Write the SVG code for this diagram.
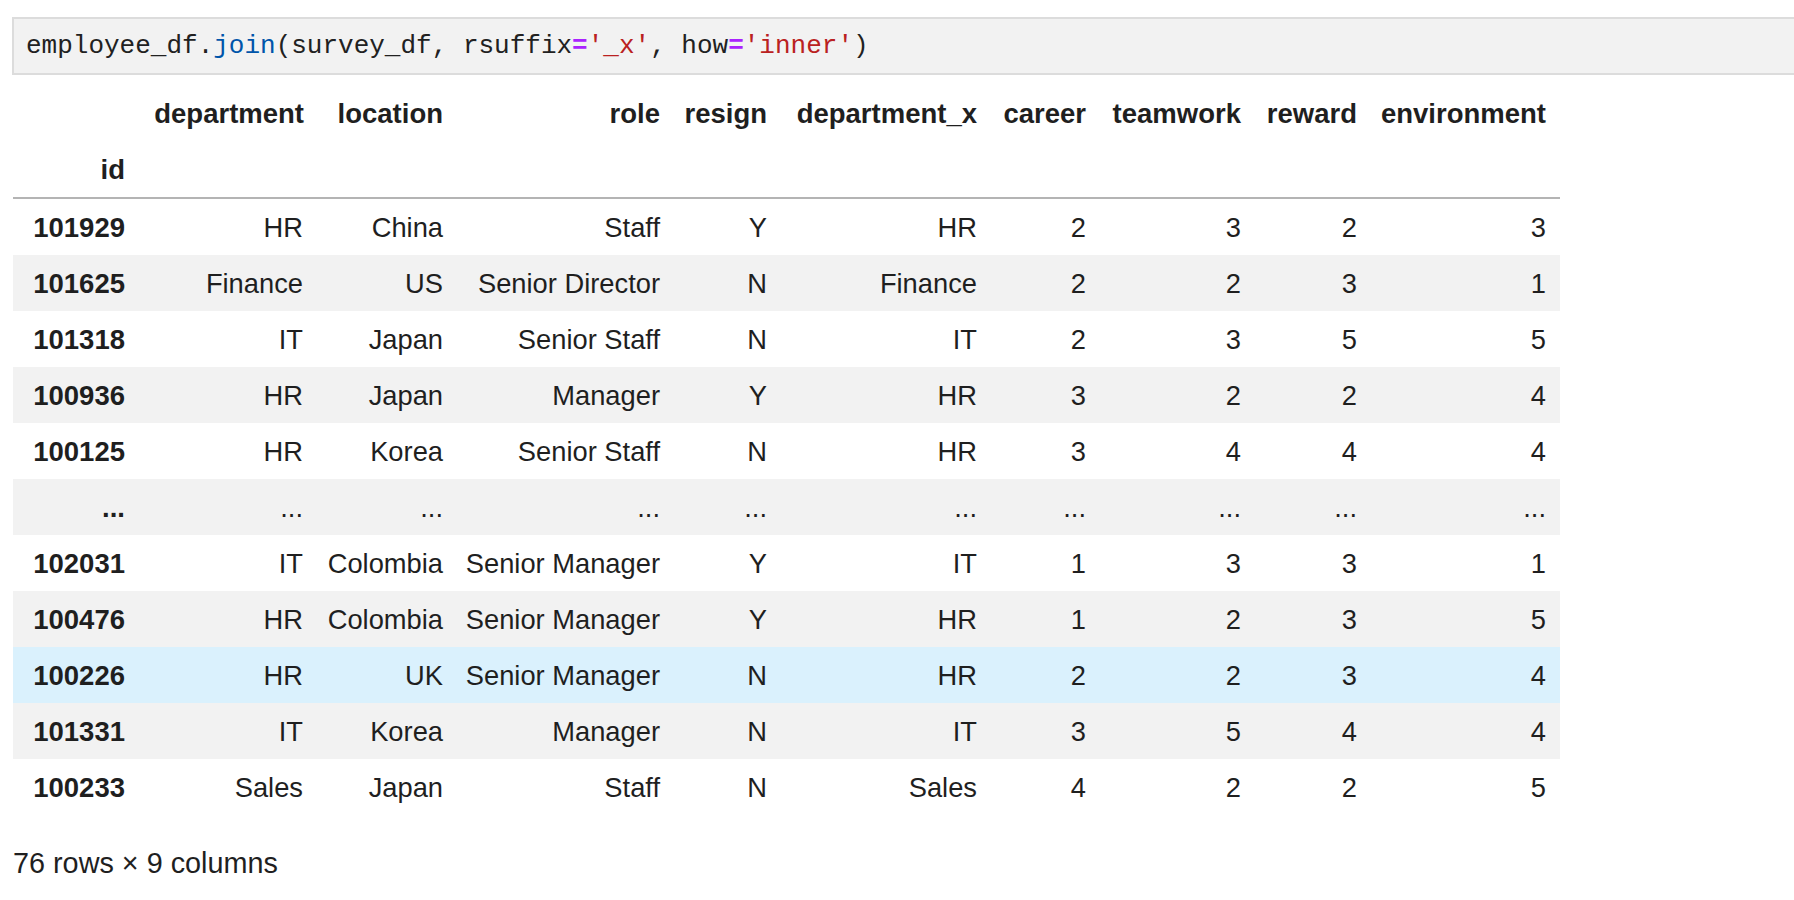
<svg xmlns="http://www.w3.org/2000/svg" width="1794" height="900" viewBox="0 0 1794 900">
<style>
.code{font-family:"Liberation Mono","DejaVu Sans Mono",monospace;font-size:26px;fill:#212121}
.kw{fill:#0055aa}
.op{fill:#aa22ff;font-weight:bold}
.str{fill:#ba2121}
text.c{font-family:"Liberation Sans",Arial,sans-serif;font-size:27.3px;fill:#1f1f1f;text-anchor:end}
text.h{font-family:"Liberation Sans",Arial,sans-serif;font-size:27.5px;fill:#1f1f1f;text-anchor:end;font-weight:bold}
.odd{fill:#f2f2f2}
.hover{fill:#daf1fd}
</style>
<rect width="1794" height="900" fill="#ffffff"/>
<g id="code-cell">
<rect x="13" y="18" width="1800" height="56" fill="#f2f2f2" stroke="#dcdcdc" stroke-width="2"/>
<text class="code" x="26" y="53">employee_df.<tspan class="kw">join</tspan>(survey_df, rsuffix<tspan class="op">=</tspan><tspan class="str">'_x'</tspan>, how<tspan class="op">=</tspan><tspan class="str">'inner'</tspan>)</text>
</g>
<g id="table">
<g id="header">
<text class="h" x="304" y="123">department</text>
<text class="h" x="443" y="123">location</text>
<text class="h" x="660" y="123">role</text>
<text class="h" x="767" y="123">resign</text>
<text class="h" x="977" y="123">department_x</text>
<text class="h" x="1086" y="123">career</text>
<text class="h" x="1241" y="123">teamwork</text>
<text class="h" x="1357" y="123">reward</text>
<text class="h" x="1546" y="123">environment</text>
<text class="h" x="125" y="179">id</text>
<rect x="13" y="197" width="1547" height="2" fill="#b4b4b4"/>
</g>
<g id="row-101929" transform="translate(0,199)">
<text class="h" x="125" y="38">101929</text><text class="c" x="303" y="38">HR</text><text class="c" x="443" y="38">China</text><text class="c" x="660" y="38">Staff</text><text class="c" x="767" y="38">Y</text><text class="c" x="977" y="38">HR</text><text class="c" x="1086" y="38">2</text><text class="c" x="1241" y="38">3</text><text class="c" x="1357" y="38">2</text><text class="c" x="1546" y="38">3</text>
</g>
<g id="row-101625" transform="translate(0,255)">
<rect class="odd" x="13" y="0" width="1547" height="56"/>
<text class="h" x="125" y="38">101625</text><text class="c" x="303" y="38">Finance</text><text class="c" x="443" y="38">US</text><text class="c" x="660" y="38">Senior Director</text><text class="c" x="767" y="38">N</text><text class="c" x="977" y="38">Finance</text><text class="c" x="1086" y="38">2</text><text class="c" x="1241" y="38">2</text><text class="c" x="1357" y="38">3</text><text class="c" x="1546" y="38">1</text>
</g>
<g id="row-101318" transform="translate(0,311)">
<text class="h" x="125" y="38">101318</text><text class="c" x="303" y="38">IT</text><text class="c" x="443" y="38">Japan</text><text class="c" x="660" y="38">Senior Staff</text><text class="c" x="767" y="38">N</text><text class="c" x="977" y="38">IT</text><text class="c" x="1086" y="38">2</text><text class="c" x="1241" y="38">3</text><text class="c" x="1357" y="38">5</text><text class="c" x="1546" y="38">5</text>
</g>
<g id="row-100936" transform="translate(0,367)">
<rect class="odd" x="13" y="0" width="1547" height="56"/>
<text class="h" x="125" y="38">100936</text><text class="c" x="303" y="38">HR</text><text class="c" x="443" y="38">Japan</text><text class="c" x="660" y="38">Manager</text><text class="c" x="767" y="38">Y</text><text class="c" x="977" y="38">HR</text><text class="c" x="1086" y="38">3</text><text class="c" x="1241" y="38">2</text><text class="c" x="1357" y="38">2</text><text class="c" x="1546" y="38">4</text>
</g>
<g id="row-100125" transform="translate(0,423)">
<text class="h" x="125" y="38">100125</text><text class="c" x="303" y="38">HR</text><text class="c" x="443" y="38">Korea</text><text class="c" x="660" y="38">Senior Staff</text><text class="c" x="767" y="38">N</text><text class="c" x="977" y="38">HR</text><text class="c" x="1086" y="38">3</text><text class="c" x="1241" y="38">4</text><text class="c" x="1357" y="38">4</text><text class="c" x="1546" y="38">4</text>
</g>
<g id="row-ellipsis" transform="translate(0,479)">
<rect class="odd" x="13" y="0" width="1547" height="56"/>
<text class="h" x="125" y="38">...</text><text class="c" x="303" y="38">...</text><text class="c" x="443" y="38">...</text><text class="c" x="660" y="38">...</text><text class="c" x="767" y="38">...</text><text class="c" x="977" y="38">...</text><text class="c" x="1086" y="38">...</text><text class="c" x="1241" y="38">...</text><text class="c" x="1357" y="38">...</text><text class="c" x="1546" y="38">...</text>
</g>
<g id="row-102031" transform="translate(0,535)">
<text class="h" x="125" y="38">102031</text><text class="c" x="303" y="38">IT</text><text class="c" x="443" y="38">Colombia</text><text class="c" x="660" y="38">Senior Manager</text><text class="c" x="767" y="38">Y</text><text class="c" x="977" y="38">IT</text><text class="c" x="1086" y="38">1</text><text class="c" x="1241" y="38">3</text><text class="c" x="1357" y="38">3</text><text class="c" x="1546" y="38">1</text>
</g>
<g id="row-100476" transform="translate(0,591)">
<rect class="odd" x="13" y="0" width="1547" height="56"/>
<text class="h" x="125" y="38">100476</text><text class="c" x="303" y="38">HR</text><text class="c" x="443" y="38">Colombia</text><text class="c" x="660" y="38">Senior Manager</text><text class="c" x="767" y="38">Y</text><text class="c" x="977" y="38">HR</text><text class="c" x="1086" y="38">1</text><text class="c" x="1241" y="38">2</text><text class="c" x="1357" y="38">3</text><text class="c" x="1546" y="38">5</text>
</g>
<g id="row-100226" transform="translate(0,647)">
<rect class="hover" x="13" y="0" width="1547" height="56"/>
<text class="h" x="125" y="38">100226</text><text class="c" x="303" y="38">HR</text><text class="c" x="443" y="38">UK</text><text class="c" x="660" y="38">Senior Manager</text><text class="c" x="767" y="38">N</text><text class="c" x="977" y="38">HR</text><text class="c" x="1086" y="38">2</text><text class="c" x="1241" y="38">2</text><text class="c" x="1357" y="38">3</text><text class="c" x="1546" y="38">4</text>
</g>
<g id="row-101331" transform="translate(0,703)">
<rect class="odd" x="13" y="0" width="1547" height="56"/>
<text class="h" x="125" y="38">101331</text><text class="c" x="303" y="38">IT</text><text class="c" x="443" y="38">Korea</text><text class="c" x="660" y="38">Manager</text><text class="c" x="767" y="38">N</text><text class="c" x="977" y="38">IT</text><text class="c" x="1086" y="38">3</text><text class="c" x="1241" y="38">5</text><text class="c" x="1357" y="38">4</text><text class="c" x="1546" y="38">4</text>
</g>
<g id="row-100233" transform="translate(0,759)">
<text class="h" x="125" y="38">100233</text><text class="c" x="303" y="38">Sales</text><text class="c" x="443" y="38">Japan</text><text class="c" x="660" y="38">Staff</text><text class="c" x="767" y="38">N</text><text class="c" x="977" y="38">Sales</text><text class="c" x="1086" y="38">4</text><text class="c" x="1241" y="38">2</text><text class="c" x="1357" y="38">2</text><text class="c" x="1546" y="38">5</text>
</g>
</g>
<g id="footer">
<text x="13" y="873" font-family="'Liberation Sans',Arial,sans-serif" font-size="28.8" fill="#1f1f1f">76 rows × 9 columns</text>
</g>
</svg>
